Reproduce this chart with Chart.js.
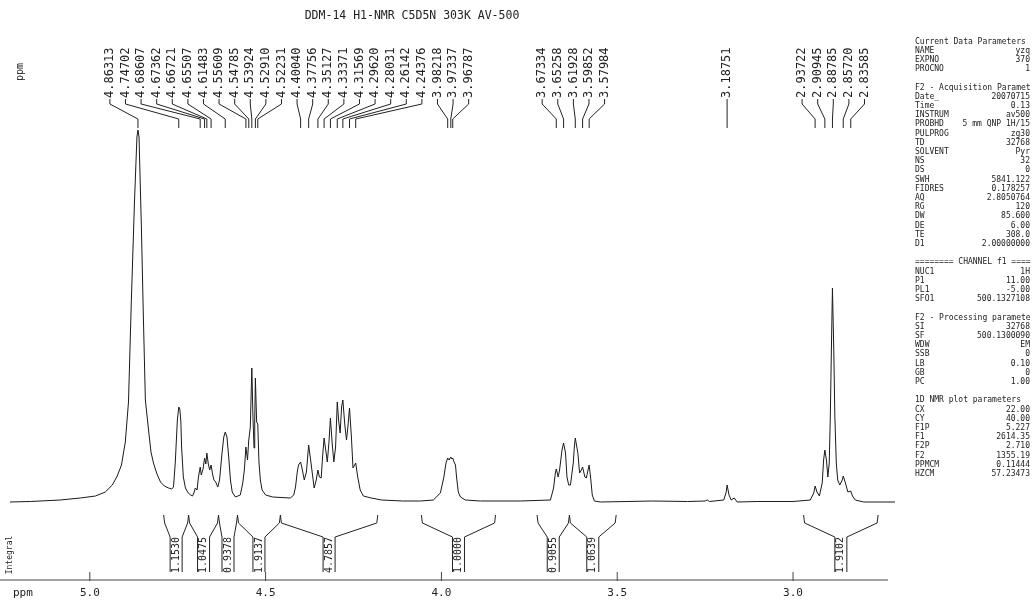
<!DOCTYPE html>
<html>
<head>
<meta charset="utf-8">
<script src="https://cdn.jsdelivr.net/npm/chart.js@4.4.1/dist/chart.umd.min.js"></script>
<style>
  html, body { margin: 0; padding: 0; background: #fff; }
  #nmrChart { display: block; }
</style>
</head>
<body>
<canvas id="nmrChart" width="1032" height="601"></canvas>
<script>
// ===== spectrum (ppm, relative intensity) =====
const shiftPpm = [
    5.227, 5.169, 5.084, 5.027, 4.984, 4.956, 4.936, 4.922, 4.910, 4.899, 4.890, 4.882, 4.873, 4.866, 4.8631,
    4.860, 4.853, 4.848, 4.842, 4.833, 4.826, 4.819, 4.809, 4.799, 4.788, 4.776, 4.767,
    4.762, 4.757, 4.751, 4.747, 4.744, 4.741, 4.739, 4.734, 4.728, 4.722, 4.714, 4.708,
    4.704, 4.700, 4.695, 4.691, 4.686, 4.683, 4.678, 4.6736, 4.670, 4.6672, 4.663, 4.659, 4.6551, 4.651, 4.647, 4.642, 4.636,
    4.631, 4.624, 4.619, 4.6148, 4.610, 4.605, 4.600, 4.595, 4.586, 4.572,
    4.565, 4.5605, 4.5561, 4.5515, 4.5479, 4.5435, 4.5392, 4.5360, 4.5330, 4.5310, 4.5291, 4.5255, 4.5223, 4.5190, 4.5150, 4.5100, 4.500, 4.480,
    4.430, 4.420, 4.415, 4.410, 4.4065, 4.4004, 4.396, 4.390, 4.384, 4.3776, 4.372, 4.362, 4.356, 4.3513, 4.347, 4.342,
    4.338, 4.3337, 4.329, 4.3245, 4.320, 4.3157, 4.311, 4.306, 4.301, 4.2962, 4.292, 4.288, 4.284, 4.2803, 4.275, 4.270,
    4.266, 4.2614, 4.256, 4.2515, 4.2438, 4.238, 4.231, 4.222, 4.200, 4.170, 4.110,
    4.060, 4.023, 4.003, 3.993, 3.987, 3.9822, 3.978, 3.9734, 3.9705, 3.9679, 3.964, 3.960, 3.957, 3.952, 3.946, 3.932, 3.889, 3.775,
    3.690, 3.681, 3.676, 3.6733, 3.668, 3.664, 3.657, 3.6526, 3.647, 3.643, 3.638, 3.633, 3.625, 3.622, 3.6193,
    3.612, 3.607, 3.602, 3.5985, 3.592, 3.588, 3.583, 3.5798, 3.575, 3.571, 3.565, 3.548,
    3.400, 3.300, 3.250, 3.244, 3.238, 3.197, 3.190, 3.1875, 3.182, 3.176, 3.167, 3.159, 3.100, 3.000,
    2.951, 2.941, 2.9372, 2.932, 2.925, 2.917, 2.913, 2.9095, 2.905, 2.901, 2.897, 2.894, 2.891, 2.8879,
    2.884, 2.881, 2.877, 2.873, 2.867, 2.860, 2.8572, 2.851, 2.844, 2.8359, 2.831, 2.823, 2.799, 2.710
];
const intensity = [
    0, 0.5, 2, 4, 6, 10, 17, 26, 37, 60, 100, 200, 300, 365, 372,
    365, 270, 190, 102, 72, 50, 39, 28, 20, 16, 14, 13,
    15, 39, 82, 95, 93, 80, 55, 25, 14, 10, 7, 6,
    9, 14, 12, 25, 35, 27, 33, 44, 38, 49, 38, 32, 37, 28, 22, 20, 15,
    22, 49, 65, 70, 65, 45, 22, 10, 5, 7,
    19, 32, 55, 42, 62, 75, 134, 85, 54, 80, 124, 80, 78, 40, 22, 12, 7, 5,
    4, 7, 15, 30, 37, 40, 33, 22, 30, 57, 42, 14, 22, 32, 25, 24,
    45, 64, 52, 40, 59, 84, 60, 40, 55, 100, 80, 69, 95, 102, 78, 62,
    75, 94, 65, 34, 39, 25, 12, 6, 4, 2, 1,
    1, 2, 9, 25, 39, 44, 42, 45, 43, 44, 40, 37, 25, 10, 5, 2, 1, 1,
    2, 14, 29, 33, 25, 32, 52, 59, 49, 25, 17, 17, 39, 55, 64,
    49, 29, 32, 35, 25, 24, 32, 37, 22, 7, 1, 0,
    1, 0.5, 1, 2, 0.5, 2, 10, 17, 7, 2, 4, 0, 0.5, 0.5,
    2, 9, 16, 10, 6, 19, 42, 52, 42, 25, 39, 85, 150, 214,
    150, 85, 39, 22, 17, 22, 26, 19, 10, 11, 6, 2, 0, 0
];

// peak picking labels
const peakPpm = [
    4.86313, 4.74702, 4.68607, 4.67362, 4.66721, 4.65507, 4.61483, 4.55609, 4.54785, 4.53924, 4.52910, 4.52231,
    4.40040, 4.37756, 4.35127, 4.33371, 4.31569, 4.29620, 4.28031, 4.26142, 4.24376,
    3.98218, 3.97337, 3.96787,
    3.67334, 3.65258, 3.61928, 3.59852, 3.57984,
    3.18751,
    2.93722, 2.90945, 2.88785, 2.85720, 2.83585
];

// integrals
const integralFrom = [4.790, 4.719, 4.634, 4.580, 4.458, 4.057, 3.728, 3.636, 2.970];
const integralTo = [4.719, 4.634, 4.580, 4.458, 4.181, 3.846, 3.636, 3.503, 2.758];
const integralValues = ['1.1530', '1.0475', '0.9378', '1.9137', '4.7857', '1.0000', '0.9055', '1.0639', '1.9102'];

const axisTicks = [5.0, 4.5, 4.0, 3.5, 3.0];
const titleText = 'DDM-14 H1-NMR C5D5N 303K AV-500';

// parameter block on the right ('' = blank line)
const paramNames = [
    'Current Data Parameters', 'NAME', 'EXPNO', 'PROCNO', '',
    'F2 - Acquisition Paramet', 'Date_', 'Time', 'INSTRUM', 'PROBHD', 'PULPROG', 'TD', 'SOLVENT', 'NS', 'DS',
    'SWH', 'FIDRES', 'AQ', 'RG', 'DW', 'DE', 'TE', 'D1', '',
    '======== CHANNEL f1 ====', 'NUC1', 'P1', 'PL1', 'SFO1', '',
    'F2 - Processing paramete', 'SI', 'SF', 'WDW', 'SSB', 'LB', 'GB', 'PC', '',
    '1D NMR plot parameters', 'CX', 'CY', 'F1P', 'F1', 'F2P', 'F2', 'PPMCM', 'HZCM'
];
const paramValues = [
    '', 'yzq', '370', '1', '',
    '', '20070715', '0.13', 'av500', '5 mm QNP 1H/15', 'zg30', '32768', 'Pyr', '32', '0',
    '5841.122', '0.178257', '2.8050764', '120', '85.600', '6.00', '308.0', '2.00000000', '',
    '', '1H', '11.00', '-5.00', '500.1327108', '',
    '', '32768', '500.1300090', 'EM', '0', '0.10', '0', '1.00', '',
    '', '22.00', '40.00', '5.227', '2614.35', '2.710', '1355.19', '0.11444', '57.23473'
];

const INK = '#222';
const MONO = '"DejaVu Sans Mono", "Liberation Mono", monospace';

function rotatedText(ctx, text, x, y, align) {
    ctx.save();
    ctx.translate(x, y);
    ctx.rotate(-Math.PI / 2);
    ctx.textAlign = align;
    ctx.textBaseline = 'middle';
    ctx.fillText(text, 0, 0);
    ctx.restore();
}

// spread label positions so neighbours keep a minimum gap
function spreadLabels(positions, gap) {
    let blocks = positions.map(p => ({ sum: p, n: 1, start: p }));
    let merged = true;
    while (merged) {
        merged = false;
        for (let i = 1; i < blocks.length; i++) {
            const a = blocks[i - 1], b = blocks[i];
            if (a.start + a.n * gap > b.start) {
                const sum = a.sum + b.sum, n = a.n + b.n;
                const center = sum / n;
                blocks.splice(i - 1, 2, { sum, n, start: center - (n - 1) * gap / 2 });
                merged = true;
                break;
            }
        }
    }
    const out = [];
    blocks.forEach(bl => { for (let k = 0; k < bl.n; k++) out.push(bl.start + k * gap); });
    return out;
}

const nmrDecor = {
    id: 'nmrDecor',
    afterDraw(chart) {
        const ctx = chart.ctx;
        const xs = chart.scales.x;
        ctx.save();
        ctx.fillStyle = INK;
        ctx.strokeStyle = INK;
        ctx.lineWidth = 1;

        // title
        ctx.font = '11.5px ' + MONO;
        ctx.textAlign = 'center';
        ctx.textBaseline = 'middle';
        ctx.fillText(titleText, 412, 16);

        ctx.font = '10px ' + MONO;
        rotatedText(ctx, 'ppm', 20, 72, 'center');

        // peak labels + connectors
        const peakX = peakPpm.map(p => xs.getPixelForValue(p));
        const labelX = spreadLabels(peakX, 15.6);
        ctx.font = '12px ' + MONO;
        peakPpm.forEach((p, i) => {
            const lx = labelX[i], px = peakX[i];
            rotatedText(ctx, p.toFixed(5), lx, 98, 'left');
            ctx.beginPath();
            ctx.moveTo(lx, 99);
            ctx.lineTo(lx, 104);
            ctx.lineTo(px, 119);
            ctx.lineTo(px, 128);
            ctx.stroke();
        });

        // integrals
        ctx.font = '10px ' + MONO;
        integralValues.forEach((val, i) => {
            const xl = xs.getPixelForValue(integralFrom[i]);
            const xr = xs.getPixelForValue(integralTo[i]);
            const cx = (xl + xr) / 2;
            ctx.beginPath();
            ctx.moveTo(xl, 515); ctx.lineTo(xl + 1, 523); ctx.lineTo(cx - 6, 537); ctx.lineTo(cx - 6, 572);
            ctx.moveTo(xr, 515); ctx.lineTo(xr - 1, 523); ctx.lineTo(cx + 6, 537); ctx.lineTo(cx + 6, 572);
            ctx.stroke();
            rotatedText(ctx, val, cx, 555, 'center');
        });
        ctx.font = '8px ' + MONO;
        rotatedText(ctx, 'Integral', 10, 555, 'center');

        // ppm axis
        const axisY = chart.chartArea.bottom;
        ctx.strokeStyle = '#444';
        ctx.beginPath();
        ctx.moveTo(0, axisY);
        ctx.lineTo(888, axisY);
        ctx.stroke();
        ctx.font = '11px ' + MONO;
        ctx.textAlign = 'center';
        ctx.textBaseline = 'middle';
        axisTicks.forEach(t => {
            const tx = xs.getPixelForValue(t);
            ctx.beginPath();
            ctx.moveTo(tx, axisY - 8);
            ctx.lineTo(tx, axisY + 1);
            ctx.stroke();
            ctx.fillText(t.toFixed(1), tx, axisY + 13);
        });
        ctx.textAlign = 'left';
        ctx.fillText('ppm', 13, axisY + 13);

        // parameter block
        ctx.font = '8px ' + MONO;
        paramNames.forEach((name, i) => {
            const y = 41.5 + i * 9.2;
            ctx.textAlign = 'left';
            ctx.fillText(name, 915, y);
            if (paramValues[i]) {
                ctx.textAlign = 'right';
                ctx.fillText(paramValues[i], 1030, y);
            }
        });
        ctx.restore();
    }
};

new Chart(document.getElementById('nmrChart').getContext('2d'), {
    type: 'line',
    data: {
        datasets: [{
            label: 'H1',
            data: shiftPpm.map((p, i) => ({ x: p, y: intensity[i] })),
            borderColor: '#1a1a1a',
            borderWidth: 1,
            pointRadius: 0,
            tension: 0,
            fill: false
        }]
    },
    options: {
        responsive: false,
        animation: false,
        events: [],
        layout: { padding: { left: 10, right: 137, top: 100, bottom: 21 } },
        plugins: { legend: { display: false }, tooltip: { enabled: false } },
        scales: {
            x: { type: 'linear', reverse: true, min: 2.710, max: 5.227, display: false },
            y: { min: -78, max: 402, display: false }
        }
    },
    plugins: [nmrDecor]
});
</script>
</body>
</html>
